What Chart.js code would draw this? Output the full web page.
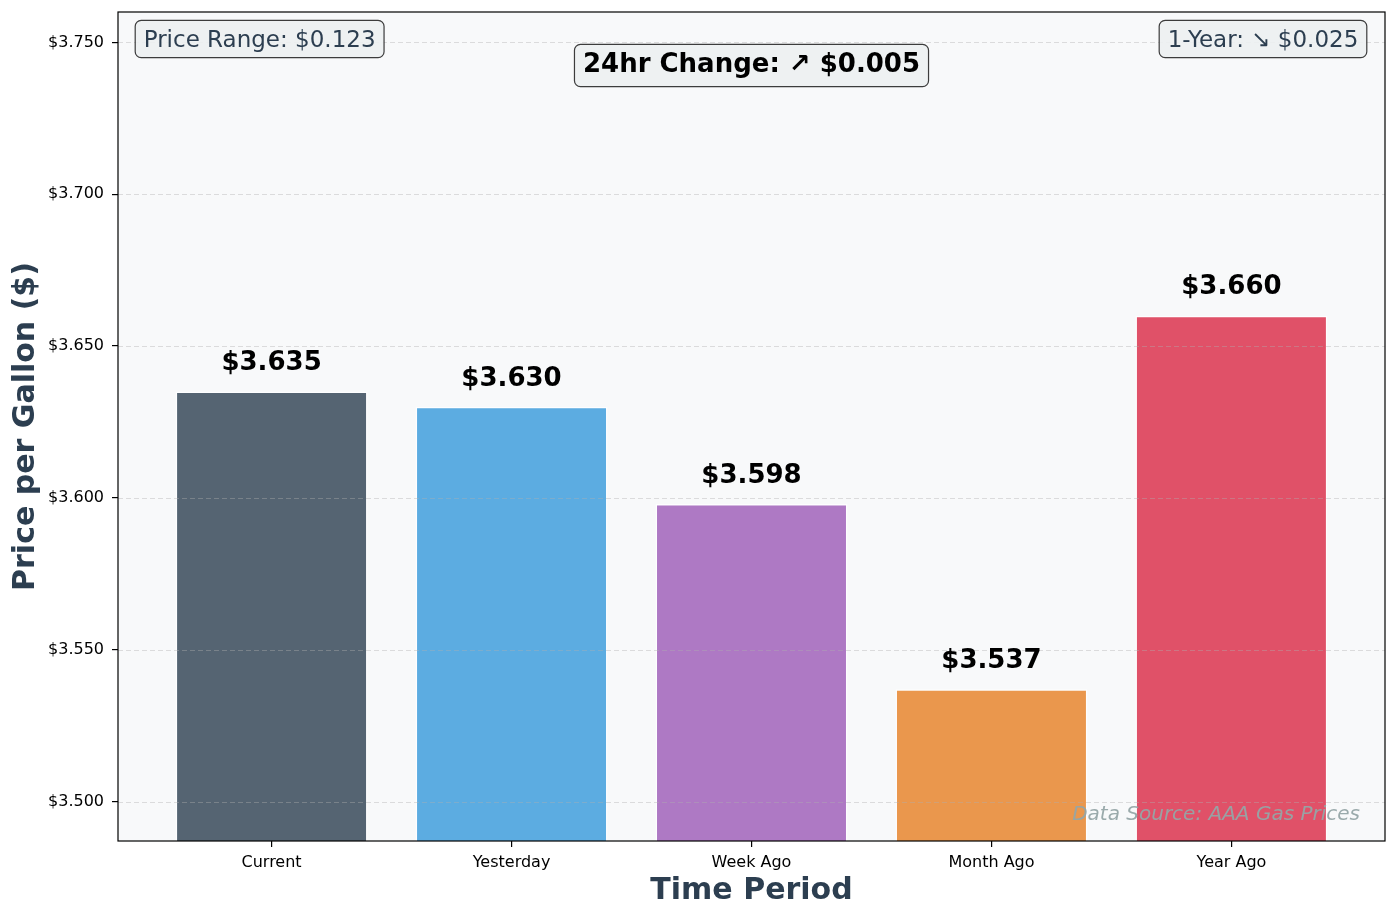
<!DOCTYPE html>
<html>
<head>
<meta charset="utf-8">
<script src="https://cdn.jsdelivr.net/npm/chart.js@4/dist/chart.umd.min.js"></script>
<style>
  html, body { margin: 0; padding: 0; background: #ffffff; }
  #wrap { width: 1397px; height: 918px; position: relative; }
</style>
</head>
<body>
<div id="wrap"><canvas id="c"></canvas></div>
<script>
const categories = ['Current', 'Yesterday', 'Week Ago', 'Month Ago', 'Year Ago'];
const prices = [3.635, 3.630, 3.598, 3.537, 3.660];
const barColors = ['#2c3e50', '#3498db', '#9b59b6', '#e67e22', '#da2743'];
const yTickValues = [3.500, 3.550, 3.600, 3.650, 3.700, 3.750];
const yMin = 3.487;
const yMax = 3.760;
const rangeText = 'Price Range: $0.123';
const changeText = '24hr Change: \u2197 $0.005';
const yearText = '1-Year: \u2198 $0.025';
const sourceText = 'Data Source: AAA Gas Prices';

const FONT = "'DejaVu Sans', sans-serif";

function hexA(hex, a) {
  const n = parseInt(hex.slice(1), 16);
  return `rgba(${(n >> 16) & 255},${(n >> 8) & 255},${n & 255},${a})`;
}

function drawBox(ctx, text, font, color, align, x, baseline, boxTop, boxH) {
  ctx.font = font;
  const w = ctx.measureText(text).width;
  let left;
  if (align === 'left') left = x;
  else if (align === 'right') left = x - w;
  else left = x - w / 2;
  const padX = 8.5;
  ctx.beginPath();
  ctx.roundRect(left - padX, boxTop, w + 2 * padX, boxH, 6);
  ctx.fillStyle = 'rgba(236,240,241,0.9)';
  ctx.fill();
  ctx.lineWidth = 1.2;
  ctx.strokeStyle = 'rgba(40,40,40,0.9)';
  ctx.stroke();
  ctx.fillStyle = color;
  ctx.textAlign = 'left';
  ctx.textBaseline = 'alphabetic';
  ctx.fillText(text, left, baseline);
}

const deco = {
  id: 'deco',
  beforeDraw(chart) {
    const { ctx, chartArea: a } = chart;
    ctx.save();
    ctx.fillStyle = '#ffffff';
    ctx.fillRect(0, 0, chart.width, chart.height);
    ctx.fillStyle = '#f8f9fa';
    ctx.fillRect(a.left, a.top, a.right - a.left, a.bottom - a.top);
    ctx.restore();
  },
  afterDatasetsDraw(chart) {
    const { ctx, chartArea: a, scales } = chart;
    const ys = scales.y, xs = scales.x;
    ctx.save();
    // dashed grid lines over the bars
    ctx.strokeStyle = 'rgba(176,176,176,0.4)';
    ctx.lineWidth = 1;
    ctx.setLineDash([5, 3]);
    yTickValues.forEach(v => {
      const py = Math.round(ys.getPixelForValue(v)) + 0.5;
      ctx.beginPath();
      ctx.moveTo(a.left, py);
      ctx.lineTo(a.right, py);
      ctx.stroke();
    });
    ctx.setLineDash([]);
    // value labels
    ctx.font = `bold 26px ${FONT}`;
    ctx.fillStyle = '#000000';
    ctx.textAlign = 'center';
    ctx.textBaseline = 'alphabetic';
    prices.forEach((v, i) => {
      const px = xs.getPixelForValue(i);
      const py = ys.getPixelForValue(v + 0.005) - 6;
      ctx.fillText('$' + v.toFixed(3), px, py);
    });
    // data source
    ctx.font = `italic 20px ${FONT}`;
    ctx.fillStyle = 'rgba(149,165,166,0.95)';
    ctx.textAlign = 'right';
    ctx.fillText(sourceText, a.right - 25, a.bottom - 21);
    // annotation boxes
    drawBox(ctx, rangeText, `23px ${FONT}`, '#2c3e50', 'left', a.left + 25.7, a.top + 35, a.top + 8.3, 37.4);
    drawBox(ctx, yearText, `23px ${FONT}`, '#2c3e50', 'right', a.right - 26.7, a.top + 35, a.top + 8.3, 37.4);
    drawBox(ctx, changeText, `bold 26px ${FONT}`, '#000000', 'center', (a.left + a.right) / 2, a.top + 60.3, a.top + 32.3, 42.4);
    // frame
    ctx.strokeStyle = '#000000';
    ctx.lineWidth = 1.2;
    ctx.strokeRect(a.left, a.top, a.right - a.left, a.bottom - a.top);
    ctx.restore();
  }
};

const data = {
  datasets: [{
    data: prices.map((v, i) => ({ x: i, y: v })),
    backgroundColor: barColors.map(c => hexA(c, 0.8)),
    borderColor: 'rgba(255,255,255,0.85)',
    borderWidth: 1.5,
    borderSkipped: 'start',
    barPercentage: 0.8,
    categoryPercentage: 1.0
  }]
};

new Chart(document.getElementById('c'), {
  type: 'bar',
  data,
  plugins: [deco],
  options: {
    responsive: true,
    maintainAspectRatio: false,
    animation: false,
    devicePixelRatio: 1,
    layout: { padding: { left: 0, right: 12, top: 12, bottom: 0 } },
    plugins: { legend: { display: false }, tooltip: { enabled: false } },
    scales: {
      x: {
        type: 'linear',
        min: -0.64,
        max: 4.64,
        offset: false,
        afterBuildTicks(scale) { scale.ticks = categories.map((_, i) => ({ value: i })); },
        afterFit(scale) { scale.height = 77; scale.paddingLeft = 0; scale.paddingRight = 0; },
        ticks: {
          autoSkip: false,
          maxRotation: 0,
          padding: 6,
          color: '#000000',
          font: { family: FONT, size: 16 },
          callback: v => categories[v]
        },
        grid: { display: true, offset: false, drawOnChartArea: false, drawTicks: true, tickLength: 6, color: '#000000', lineWidth: 1.2 },
        border: { display: false },
        title: {
          display: true,
          text: 'Time Period',
          color: '#2c3e50',
          font: { family: FONT, size: 30, weight: 'bold' },
          padding: { top: 0, bottom: 9 }
        }
      },
      y: {
        type: 'linear',
        min: yMin,
        max: yMax,
        afterBuildTicks(scale) { scale.ticks = yTickValues.map(v => ({ value: v })); },
        afterFit(scale) { scale.width = 118; scale.paddingTop = 0; scale.paddingBottom = 0; },
        ticks: {
          padding: 8,
          color: '#000000',
          font: { family: FONT, size: 16 },
          callback: v => '$' + Number(v).toFixed(3)
        },
        grid: { display: true, drawOnChartArea: false, drawTicks: true, tickLength: 6, color: '#000000', lineWidth: 1.2 },
        border: { display: false },
        title: {
          display: true,
          text: 'Price per Gallon ($)',
          color: '#2c3e50',
          font: { family: FONT, size: 30, weight: 'bold' },
          padding: { top: 8.6, bottom: 0 }
        }
      }
    }
  }
});
</script>
</body>
</html>
